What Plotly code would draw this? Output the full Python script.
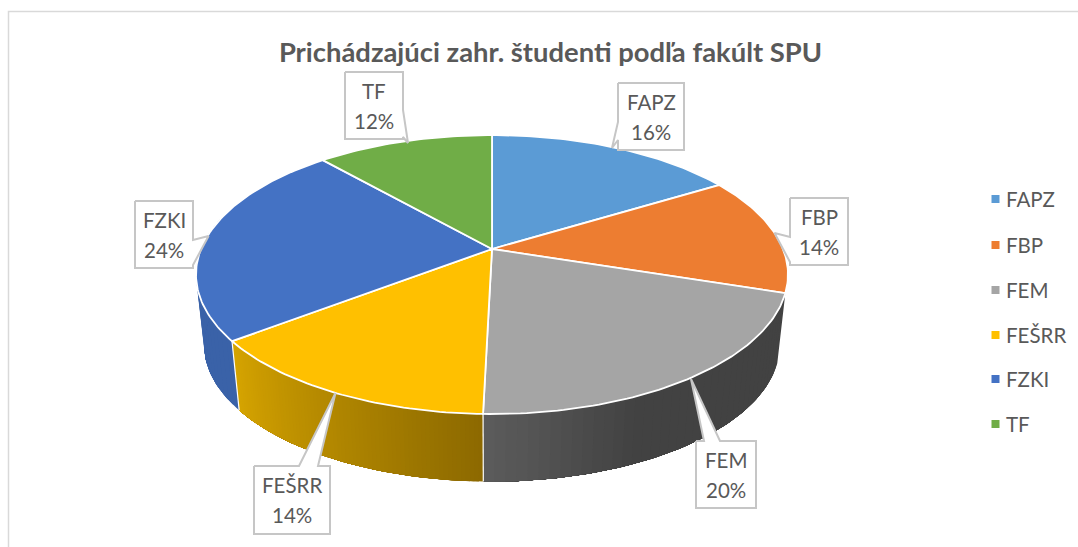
import math
import plotly.graph_objects as go

# ---- data ----
faculties = ["FAPZ", "FBP", "FEM", "FEŠRR", "FZKI", "TF"]
label_pct = [16, 14, 20, 14, 24, 12]          # printed labels
slice_share = [16.3, 13.7, 20.4, 14.2, 23.9, 11.5]
title_text = "Prichádzajúci zahr. študenti podľa fakúlt SPU"

# ---- style ----
colors = ["#5B9BD5", "#ED7D31", "#A5A5A5", "#FFC000", "#4472C4", "#70AD47"]
wall_ramps = {
    2: ((92, 92, 92), (66, 66, 66)),
    3: ((214, 164, 0), (140, 105, 0)),
    4: ((58, 98, 168), (58, 98, 168)),
}
FONT = "Lato, Carlito, Calibri, sans-serif"
TXT = "#595959"
EDGE = "#C6C6C6"
TOP = dict(cx=492, cy=249, A=134.8, B=291)
BOT = dict(cx=492, cy=320, A=132, B=283)
K = 0.183

boxes = {
    "FAPZ": dict(x0=618, x1=684, y0=83, y1=150, lead=[(618, 122), (612, 148), (618, 140)]),
    "FBP": dict(x0=790, x1=848, y0=198, y1=265, lead=[(790, 237), (774.5, 233), (790, 262)]),
    "FEM": dict(x0=696, x1=756, y0=441, y1=508, lead=[(704, 441), (691, 379), (720, 441)]),
    "FEŠRR": dict(x0=254, x1=330, y0=466, y1=534, lead=[(299, 466), (335.5, 393), (318, 466)]),
    "FZKI": dict(x0=135, x1=193, y0=201, y1=268, lead=[(193, 240), (208.6, 236), (193, 265)]),
    "TF": dict(x0=345, x1=403, y0=72, y1=139, lead=[(403, 110), (408, 143), (403, 137)]),
}
legend_y = [199, 245, 290, 335, 379, 424]


def proj(deg, d):
    t = math.radians(deg)
    x, y = math.sin(t), math.cos(t)
    w = 1 + K * y
    return d["cx"] + d["B"] * x / w, d["cy"] - d["A"] * y / w


def lerp(a, b, t):
    return "rgb(%d,%d,%d)" % tuple(round(p + (q - p) * t) for p, q in zip(a, b))


total = sum(slice_share)
edges = [0.0]
for s in slice_share:
    edges.append(edges[-1] + s / total * 360)

fig = go.Figure()

# side walls: each band runs on to the wall's end, so no seams appear between neighbouring bands
for idx, ramp in wall_ramps.items():
    a0 = edges[idx]
    a1 = min(edges[idx + 1], 285)
    n = 70 if idx == 3 else 40 if idx == 2 else 24
    for j in range(n):
        s0 = a0 + (a1 - a0) * j / n
        tx = (j + 0.5) / n
        if idx == 2:
            t = min((1 - tx) / 0.35, 1)
        elif idx == 3:
            t = 1 - tx
        else:
            t = 0
        c = lerp(ramp[0], ramp[1], t)
        m = max(int(a1 - s0), 2)
        arc = [s0 + (a1 - s0) * q / m for q in range(m + 1)]
        pts = [proj(a, TOP) for a in arc] + [proj(a, BOT) for a in arc[::-1]]
        fig.add_trace(go.Scatter(
            x=[p[0] for p in pts] + [pts[0][0]], y=[p[1] for p in pts] + [pts[0][1]],
            mode="lines", fill="toself", fillcolor=c, line=dict(width=0),
            hoverinfo="skip", showlegend=False))

# white seams on the wall
for idx in (3, 4):
    a = edges[idx]
    p, q = proj(a, TOP), proj(a, BOT)
    fig.add_trace(go.Scatter(x=[p[0], q[0]], y=[p[1], q[1]], mode="lines",
                             line=dict(color="white", width=1.2), hoverinfo="skip", showlegend=False))

# top face
for i, name in enumerate(faculties):
    a0, a1 = edges[i], edges[i + 1]
    n = max(int(a1 - a0), 2)
    rim = [proj(a0 + (a1 - a0) * j / n, TOP) for j in range(n + 1)]
    xs = [TOP["cx"]] + [p[0] for p in rim] + [TOP["cx"]]
    ys = [TOP["cy"]] + [p[1] for p in rim] + [TOP["cy"]]
    fig.add_trace(go.Scatter(x=xs, y=ys, mode="lines", fill="toself", fillcolor=colors[i],
                             line=dict(color="white", width=1.8), name=name,
                             hoverinfo="name", showlegend=False))

# callouts: box outline running through its leader wedge
for name, b in boxes.items():
    lead = b["lead"]
    x0, x1, y0, y1 = b["x0"], b["x1"], b["y0"], b["y1"]
    if lead[0][1] == y0 and lead[2][1] == y0:      # wedge on top edge
        path = [(x0, y0)] + lead + [(x1, y0), (x1, y1), (x0, y1), (x0, y0)]
    elif lead[0][0] == x1:                          # wedge on right edge
        path = [(x0, y0), (x1, y0)] + lead + [(x1, y1), (x0, y1), (x0, y0)]
    else:                                           # wedge on left edge
        path = [(x0, y0), (x1, y0), (x1, y1), (x0, y1)] + lead[::-1] + [(x0, y0)]
    fig.add_trace(go.Scatter(x=[p[0] for p in path], y=[p[1] for p in path], mode="lines",
                             fill="toself", fillcolor="white",
                             line=dict(color=EDGE, width=2), hoverinfo="skip", showlegend=False))

# callout texts
annotations = []
for name, pct in zip(faculties, label_pct):
    b = boxes[name]
    xc = (b["x0"] + b["x1"]) / 2
    yc = (b["y0"] + b["y1"]) / 2
    for txt, dy in ((name, -15), (f"{pct}%", 15)):
        annotations.append(dict(x=xc, y=yc + dy, xref="x", yref="y", text=txt, showarrow=False,
                                xanchor="center", yanchor="middle",
                                font=dict(family=FONT, size=20.5, color=TXT)))

# legend
for i, name in enumerate(faculties):
    fig.add_trace(go.Scatter(x=[995.5], y=[legend_y[i]], mode="markers",
                             marker=dict(symbol="square", size=8, color=colors[i]),
                             name=name, hoverinfo="name", showlegend=False))
    annotations.append(dict(x=1004, y=legend_y[i], xref="x", yref="y", text=name, showarrow=False,
                            xanchor="left", yanchor="middle",
                            font=dict(family=FONT, size=20.5, color=TXT)))

fig.update_layout(
    width=1078, height=547, margin=dict(l=0, r=0, t=0, b=0),
    paper_bgcolor="white", plot_bgcolor="white", showlegend=False,
    title=dict(text="<b>" + title_text + "</b>", x=550.5 / 1078, y=1 - 52 / 547,
               xanchor="center", yanchor="middle",
               font=dict(family=FONT, size=27.4, color=TXT)),
    xaxis=dict(range=[0, 1078], visible=False, fixedrange=True),
    yaxis=dict(range=[547, 0], visible=False, fixedrange=True),
    annotations=annotations,
    shapes=[dict(type="path", path="M 8.5 547 L 8.5 11.5 L 1078 11.5", xref="x", yref="y",
                 line=dict(color="#D9D9D9", width=1.5), layer="below")],
)

fig.write_html("out.html", config={"displayModeBar": False},
               post_script="document.body.style.margin='0';document.documentElement.style.overflow='hidden';")
